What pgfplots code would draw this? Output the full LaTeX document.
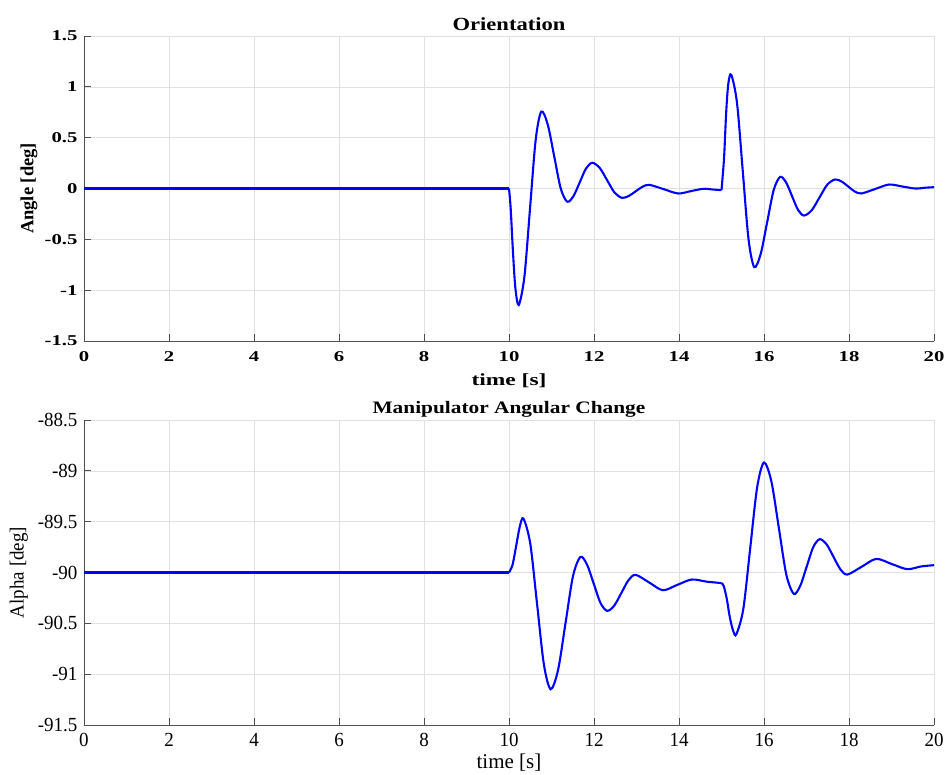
\documentclass[border=0pt]{standalone}
\usepackage{pgfplots}
\pgfplotsset{compat=1.18}
\usepackage{fontspec}
\setmainfont{Liberation Serif}
\newfontfamily\wideserif[FakeStretch=1.38]{Liberation Serif}
\newfontfamily\midserif[FakeStretch=1.22]{Liberation Serif}
\newfontfamily\narserif[FakeStretch=0.95]{Liberation Serif}
\definecolor{gridc}{RGB}{225,225,225}
\definecolor{axc}{RGB}{80,80,80}
\pgfplotsset{
  mystyle/.style={
    scale only axis, width=850pt, height=305pt,
    xmin=0, xmax=20, xtick={0,2,...,20},
    grid=major, major grid style={gridc, line width=0.6pt},
    axis x line*=bottom, axis y line*=left,
    axis line style={axc, line width=0.8pt},
    tick style={axc, line width=0.8pt}, tick align=inside,
    major tick length=7pt,
    /pgf/number format/assume math mode=true,
    title style={at={(axis description cs:0.5,1)}, anchor=center},
    xlabel style={at={(axis description cs:0.5,0)}, anchor=center},
  },
  myline/.style={blue, line width=2.1pt, no marks},
}
\begin{document}
\begin{tikzpicture}
\begin{axis}[mystyle, at={(0,0)}, anchor=south west,
  ymin=-1.5, ymax=1.5, ytick={-1.5,-1,...,1.5},
  yticklabels={-1.5,-1,-0.5,0,0.5,1,1.5},
  ticklabel style={font=\fontsize{15}{15}\wideserif\bfseries},
  xticklabel style={yshift=-7pt},
  yticklabel style={xshift=-3pt},
  title={\fontsize{18.5}{18.5}\midserif\bfseries Orientation},
  title style={yshift=6pt},
  xlabel={\fontsize{17}{17}\wideserif\bfseries time [s]},
  xlabel style={yshift=-40pt},
  ylabel={\fontsize{18.5}{18.5}\selectfont\bfseries Angle [deg]},
  ylabel style={at={(axis description cs:-0.0647,0.5)}, anchor=center, rotate=0},
]
\addplot[myline] coordinates {(0,0) (10,0)};
\addplot[myline, smooth, tension=0.5] coordinates {
(10.0,0) (10.04,-0.2) (10.09,-0.6) (10.15,-0.98) (10.23,-1.145)
(10.3625,-0.866) (10.495,-0.194) (10.6275,0.478) (10.76,0.757)
(10.9125,0.627) (11.065,0.3135) (11.2175,0.0) (11.37,-0.13)
(11.5175,-0.074) (11.665,0.0615) (11.8125,0.197) (11.96,0.253)
(12.135,0.202) (12.31,0.0805) (12.485,-0.041) (12.66,-0.092)
(12.82,-0.073) (12.98,-0.028) (13.14,0.017) (13.30,0.036)
(13.64,-0.0065) (13.98,-0.049) (14.275,-0.026) (14.57,-0.003)
(14.8,-0.01) (15.0,-0.016)};
\addplot[myline, smooth, tension=0.5] coordinates {
(15.0,-0.016) (15.06,0.3) (15.11,0.75) (15.16,1.03) (15.23,1.118)
(15.365,0.841) (15.5,0.1725) (15.635,-0.496) (15.77,-0.773)
(15.9225,-0.643) (16.075,-0.329) (16.2275,-0.015) (16.38,0.115)
(16.52,0.059) (16.66,-0.0755) (16.80,-0.210) (16.94,-0.266)
(17.1225,-0.214) (17.305,-0.0885) (17.4875,0.037) (17.67,0.089)
(17.825,0.069) (17.98,0.02) (18.135,-0.029) (18.29,-0.049)
(18.615,-0.005) (18.94,0.039) (19.25,0.02) (19.56,0.0) (19.8,0.008) (20,0.013)};
\end{axis}
\begin{axis}[mystyle, at={(0,-384pt)}, anchor=south west,
  ymin=-91.5, ymax=-88.5, ytick={-91.5,-91,...,-88.5},
  yticklabels={-91.5,-91,-90.5,-90,-89.5,-89,-88.5},
  ticklabel style={font=\fontsize{20}{20}\narserif},
  xticklabel style={yshift=-5pt},
  yticklabel style={xshift=-3pt},
  title={\fontsize{17.5}{17.5}\midserif\bfseries Manipulator Angular Change},
  title style={yshift=5pt},
  xlabel={\fontsize{21}{21}\selectfont time [s]},
  xlabel style={yshift=-38pt},
  ylabel={\fontsize{20}{20}\narserif Alpha [deg]},
  ylabel style={at={(axis description cs:-0.0765,0.5)}, anchor=center, rotate=0},
]
\addplot[myline] coordinates {(0,-90) (10,-90)};
\addplot[myline, smooth, tension=0.5] coordinates {
(10.0,-90) (10.085,-89.922) (10.17,-89.7345) (10.255,-89.547) (10.34,-89.469)
(10.50,-89.715) (10.66,-90.3085) (10.82,-90.902) (10.98,-91.148)
(11.155,-90.957) (11.33,-90.497) (11.505,-90.037) (11.68,-89.846)
(11.8375,-89.924) (11.995,-90.1115) (12.1525,-90.299) (12.31,-90.377)
(12.4775,-90.325) (12.645,-90.2) (12.8125,-90.075) (12.98,-90.023)
(13.30,-90.0985) (13.62,-90.174) (13.96,-90.1215) (14.30,-90.069)
(14.65,-90.09) (14.9,-90.1) (15.0,-90.105)};
\addplot[myline, smooth, tension=0.5] coordinates {
(15.0,-90.105) (15.05,-90.13) (15.12,-90.25) (15.2,-90.45) (15.28,-90.58) (15.35,-90.607)
(15.5125,-90.36) (15.675,-89.7625) (15.8375,-89.165) (16.0,-88.918)
(16.175,-89.107) (16.35,-89.564) (16.525,-90.021) (16.70,-90.21)
(16.8525,-90.131) (17.005,-89.941) (17.1575,-89.751) (17.31,-89.672)
(17.4725,-89.723) (17.635,-89.846) (17.7975,-89.969) (17.96,-90.02)
(18.30,-89.943) (18.64,-89.866) (19.005,-89.9165) (19.37,-89.967)
(19.7,-89.94) (20,-89.928)};
\end{axis}
\pgfresetboundingbox
\path[use as bounding box] (-84pt,-433pt) rectangle (865pt,341pt);
\end{tikzpicture}
\end{document}
